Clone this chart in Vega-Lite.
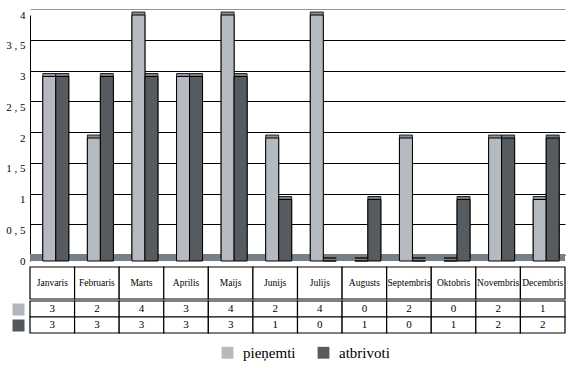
{
  "$schema": "https://vega.github.io/schema/vega-lite/v6.json",
  "padding": {"left": 5, "top": 9, "right": 5, "bottom": 5},
  "spacing": 0,
  "config": {"font": "Liberation Serif, serif", "view": {"stroke": null}, "concat": {"spacing": 0}},
  "datasets": {
    "d": [
      {"month": "Janvaris", "series": "pieņemti", "value": 3},
      {"month": "Janvaris", "series": "atbrivoti", "value": 3},
      {"month": "Februaris", "series": "pieņemti", "value": 2},
      {"month": "Februaris", "series": "atbrivoti", "value": 3},
      {"month": "Marts", "series": "pieņemti", "value": 4},
      {"month": "Marts", "series": "atbrivoti", "value": 3},
      {"month": "Aprilis", "series": "pieņemti", "value": 3},
      {"month": "Aprilis", "series": "atbrivoti", "value": 3},
      {"month": "Maijs", "series": "pieņemti", "value": 4},
      {"month": "Maijs", "series": "atbrivoti", "value": 3},
      {"month": "Junijs", "series": "pieņemti", "value": 2},
      {"month": "Junijs", "series": "atbrivoti", "value": 1},
      {"month": "Julijs", "series": "pieņemti", "value": 4},
      {"month": "Julijs", "series": "atbrivoti", "value": 0},
      {"month": "Augusts", "series": "pieņemti", "value": 0},
      {"month": "Augusts", "series": "atbrivoti", "value": 1},
      {"month": "Septembris", "series": "pieņemti", "value": 2},
      {"month": "Septembris", "series": "atbrivoti", "value": 0},
      {"month": "Oktobris", "series": "pieņemti", "value": 0},
      {"month": "Oktobris", "series": "atbrivoti", "value": 1},
      {"month": "Novembris", "series": "pieņemti", "value": 2},
      {"month": "Novembris", "series": "atbrivoti", "value": 2},
      {"month": "Decembris", "series": "pieņemti", "value": 1},
      {"month": "Decembris", "series": "atbrivoti", "value": 2}
    ]
  },
  "vconcat": [
    {
      "width": 535,
      "height": 246,
      "layer": [
        {
          "data": {"values": [{}]},
          "mark": {"type": "rect", "color": "#788085", "y2Offset": -7},
          "encoding": {
            "y": {"datum": 0, "type": "quantitative", "scale": {"domain": [0, 4]},
              "axis": {
                "title": null,
                "values": [0, 0.5, 1, 1.5, 2, 2.5, 3, 3.5, 4],
                "labelOverlap": false,
                "grid": true,
                "gridColor": {"condition": {"test": "datum.value === 4", "value": "#8f959a"}, "value": "#000000"},
                "gridWidth": 1,
                "tickOffset": -6,
                "labelOffset": 6,
                "ticks": false,
                "domain": true,
                "domainColor": "#000000",
                "labelExpr": "replace(format(datum.value, '~g'), '.', ' , ')",
                "labelFont": "Liberation Serif, serif",
                "labelFontSize": 11,
                "labelColor": "#000000",
                "labelPadding": 5
              }
            },
            "y2": {"datum": 0}
          }
        },
        {
          "data": {"name": "d"},
          "mark": {"type": "bar", "xOffset": 4, "yOffset": -3, "y2Offset": -3, "stroke": "#000000", "strokeWidth": 0.8},
          "encoding": {
            "x": {"field": "month", "type": "nominal", "sort": null, "scale": {"paddingInner": 0, "paddingOuter": 0}, "axis": null},
            "xOffset": {"field": "series", "type": "nominal", "scale": {"domain": ["pieņemti", "atbrivoti"], "paddingInner": 0, "paddingOuter": 0.7146, "align": 0.688}},
            "y": {"field": "value", "type": "quantitative",
              "axis": {
                "title": null,
                "values": [0, 0.5, 1, 1.5, 2, 2.5, 3, 3.5, 4],
                "labelOverlap": false,
                "grid": true,
                "gridColor": {"condition": {"test": "datum.value === 4", "value": "#8f959a"}, "value": "#000000"},
                "gridWidth": 1,
                "tickOffset": -6,
                "labelOffset": 6,
                "ticks": false,
                "domain": true,
                "domainColor": "#000000",
                "labelExpr": "replace(format(datum.value, '~g'), '.', ' , ')",
                "labelFont": "Liberation Serif, serif",
                "labelFontSize": 11,
                "labelColor": "#000000",
                "labelPadding": 5
              }
            },
            "fill": {"condition": {"test": "datum.series === 'pieņemti'", "value": "#8c9297"}, "value": "#767c81"}
          }
        },
        {
          "data": {"name": "d"},
          "mark": {"type": "bar", "stroke": "#000000", "strokeWidth": 1},
          "encoding": {
            "x": {"field": "month", "type": "nominal", "sort": null, "scale": {"paddingInner": 0, "paddingOuter": 0}, "axis": null},
            "xOffset": {"field": "series", "type": "nominal", "scale": {"domain": ["pieņemti", "atbrivoti"], "paddingInner": 0, "paddingOuter": 0.7146, "align": 0.688}},
            "y": {"field": "value", "type": "quantitative",
              "axis": {
                "title": null,
                "values": [0, 0.5, 1, 1.5, 2, 2.5, 3, 3.5, 4],
                "labelOverlap": false,
                "grid": true,
                "gridColor": {"condition": {"test": "datum.value === 4", "value": "#8f959a"}, "value": "#000000"},
                "gridWidth": 1,
                "tickOffset": -6,
                "labelOffset": 6,
                "ticks": false,
                "domain": true,
                "domainColor": "#000000",
                "labelExpr": "replace(format(datum.value, '~g'), '.', ' , ')",
                "labelFont": "Liberation Serif, serif",
                "labelFontSize": 11,
                "labelColor": "#000000",
                "labelPadding": 5
              }
            },
            "color": {
              "field": "series", "type": "nominal",
              "scale": {"domain": ["pieņemti", "atbrivoti"], "range": ["#b4babf", "#565b60"]},
              "legend": {
                "title": null, "orient": "none", "direction": "horizontal",
                "legendX": 190, "legendY": 330,
                "symbolType": "square", "symbolSize": 140, "symbolStrokeWidth": 0,
                "labelFont": "Liberation Serif, serif", "labelFontSize": 15, "labelColor": "#000000",
                "columnPadding": 20, "labelOffset": 8
              }
            }
          }
        }
      ]
    },
    {
      "width": 535,
      "height": 32,
      "data": {"name": "d"},
      "transform": [{"filter": "datum.series === 'pieņemti'"}],
      "layer": [
        {
          "mark": {"type": "rect", "fill": "#ffffff", "stroke": "#000000", "strokeWidth": 1.2},
          "encoding": {
            "x": {"field": "month", "type": "nominal", "sort": null, "scale": {"paddingInner": 0, "paddingOuter": 0}, "axis": null}
          }
        },
        {
          "mark": {"type": "text", "font": "Liberation Serif, serif", "fontSize": 9.5, "fill": "#000000"},
          "encoding": {
            "x": {"field": "month", "type": "nominal", "sort": null, "axis": null},
            "text": {"field": "month"}
          }
        }
      ]
    },
    {
      "width": 535,
      "height": 32,
      "data": {"name": "d"},
      "layer": [
        {
          "mark": {"type": "rect", "fill": "#ffffff", "stroke": "#000000", "strokeWidth": 1.2},
          "encoding": {
            "x": {"field": "month", "type": "nominal", "sort": null, "scale": {"paddingInner": 0, "paddingOuter": 0}, "axis": null},
            "y": {"field": "series", "type": "nominal", "sort": ["pieņemti", "atbrivoti"], "scale": {"paddingInner": 0, "paddingOuter": 0},
              "axis": {
                "title": null, "labels": false, "domain": false, "offset": 6,
                "ticks": true, "tickSize": 12, "tickWidth": 12, "tickCap": "butt",
                "tickColor": {"condition": {"test": "datum.value === 'pieņemti'", "value": "#b0b6bb"}, "value": "#53585c"}
              }
            }
          }
        },
        {
          "mark": {"type": "text", "font": "Liberation Serif, serif", "fontSize": 11, "fill": "#000000"},
          "encoding": {
            "x": {"field": "month", "type": "nominal", "sort": null, "axis": null},
            "y": {"field": "series", "type": "nominal", "sort": ["pieņemti", "atbrivoti"]},
            "text": {"field": "value"}
          }
        }
      ]
    }
  ]
}
